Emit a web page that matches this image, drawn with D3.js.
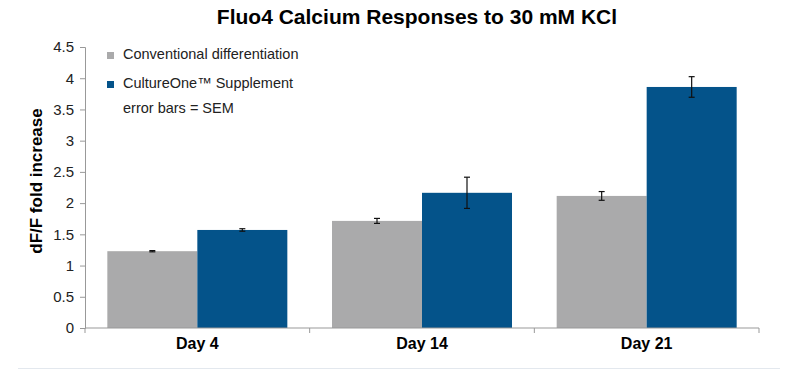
<!DOCTYPE html>
<meta charset="utf-8">
<head>
<style>
  body { margin: 0; background: #fff; }
  text { font-family: "Liberation Sans", Arial, sans-serif; }
</style>
<script src="https://cdn.jsdelivr.net/npm/d3@7"></script>
</head>
<body>
<script>
  var days = ["Day 4", "Day 14", "Day 21"];
  var seriesNames = ["Conventional differentiation", "CultureOne\u2122 Supplement"];
  var conventional = [1.23, 1.715, 2.115];
  var cultureOne = [1.57, 2.165, 3.86];
  var convSem = [0.01, 0.04, 0.07];
  var cultureSem = [0.02, 0.25, 0.165];
  var yTicks = [0, 0.5, 1, 1.5, 2, 2.5, 3, 3.5, 4, 4.5];

  var width = 804, height = 370;
  var colors = ["#aaaaab", "#04538a"];

  var svg = d3.select("body").append("svg")
      .attr("width", width)
      .attr("height", height);

  // category slots, bars placed inside each slot
  var xc = d3.scaleBand().domain(days).range([85, 759]);
  var xs = d3.scaleBand().domain([0, 1]).range([0, 180]);
  var y = d3.scaleLinear().domain([0, 4.5]).range([328, 47]);

  // title
  svg.append("text")
      .attr("x", 417).attr("y", 24)
      .attr("text-anchor", "middle")
      .style("font-size", "21px").style("font-weight", "bold")
      .text("Fluo4 Calcium Responses to 30 mM KCl");

  // bars
  var series = [conventional, cultureOne];
  var sems = [convSem, cultureSem];
  series.forEach(function(vals, s) {
    svg.append("g").selectAll("rect")
      .data(vals)
      .enter().append("rect")
        .attr("x", function(d, i) { return xc(days[i]) + (xc.bandwidth() - 180) / 2 + xs(s); })
        .attr("width", xs.bandwidth())
        .attr("y", function(d) { return y(d); })
        .attr("height", function(d) { return y(0) - y(d); })
        .attr("fill", colors[s]);
  });

  // error bars
  series.forEach(function(vals, s) {
    var g = svg.append("g").attr("stroke", "#111").attr("stroke-width", 1.2);
    vals.forEach(function(d, i) {
      var cx = xc(days[i]) + (xc.bandwidth() - 180) / 2 + xs(s) + xs.bandwidth() / 2;
      var e = sems[s][i];
      g.append("line").attr("x1", cx).attr("x2", cx).attr("y1", y(d + e)).attr("y2", y(d - e));
      g.append("line").attr("x1", cx - 3).attr("x2", cx + 3).attr("y1", y(d + e)).attr("y2", y(d + e));
      g.append("line").attr("x1", cx - 3).attr("x2", cx + 3).attr("y1", y(d - e)).attr("y2", y(d - e));
    });
  });

  // y axis
  var yAxis = svg.append("g")
      .attr("transform", "translate(85,0)")
      .call(d3.axisLeft(y).tickValues(yTicks).tickSize(5).tickPadding(6).tickFormat(d3.format("")));
  yAxis.select(".domain").attr("stroke", "#999");
  yAxis.selectAll(".tick line").attr("stroke", "#999");
  yAxis.selectAll(".tick text").attr("fill", "#222")
      .style("font-family", "Liberation Sans, Arial, sans-serif").style("font-size", "15px");

  // x axis
  var xAxis = svg.append("g")
      .attr("transform", "translate(0,328)");
  xAxis.append("line").attr("x1", 85).attr("x2", 759).attr("stroke", "#999");
  xAxis.selectAll("line.tk")
      .data([0].concat(days))
      .enter().append("line")
        .attr("class", "tk")
        .attr("x1", function(d, i) { return i === 0 ? 85 : xc(d) + xc.bandwidth(); })
        .attr("x2", function(d, i) { return i === 0 ? 85 : xc(d) + xc.bandwidth(); })
        .attr("y1", 0).attr("y2", 5).attr("stroke", "#999");
  xAxis.selectAll("text")
      .data(days)
      .enter().append("text")
        .attr("x", function(d) { return xc(d) + xc.bandwidth() / 2; })
        .attr("y", 21)
        .attr("text-anchor", "middle")
        .style("font-size", "16px").style("font-weight", "bold")
        .text(function(d) { return d; });

  // y label
  svg.append("text")
      .attr("transform", "translate(42,181)rotate(-90)")
      .attr("text-anchor", "middle")
      .style("font-size", "17px").style("font-weight", "bold")
      .text("dF/F fold increase");

  // legend
  var legend = svg.append("g");
  seriesNames.forEach(function(name, i) {
    legend.append("rect")
        .attr("x", 107).attr("y", 52 + i * 29)
        .attr("width", 7).attr("height", 7)
        .attr("fill", colors[i]);
    legend.append("text")
        .attr("x", 123).attr("y", 59 + i * 29)
        .attr("fill", "#222")
        .style("font-size", "14.5px")
        .text(name);
  });
  legend.append("text")
      .attr("x", 123).attr("y", 113)
      .attr("fill", "#222")
      .style("font-size", "14.5px")
      .text("error bars = SEM");

  // faint bottom rule
  svg.append("line")
      .attr("x1", 18).attr("x2", 780)
      .attr("y1", 368.5).attr("y2", 368.5)
      .attr("stroke", "#e3e8ee");
</script>
</body>
